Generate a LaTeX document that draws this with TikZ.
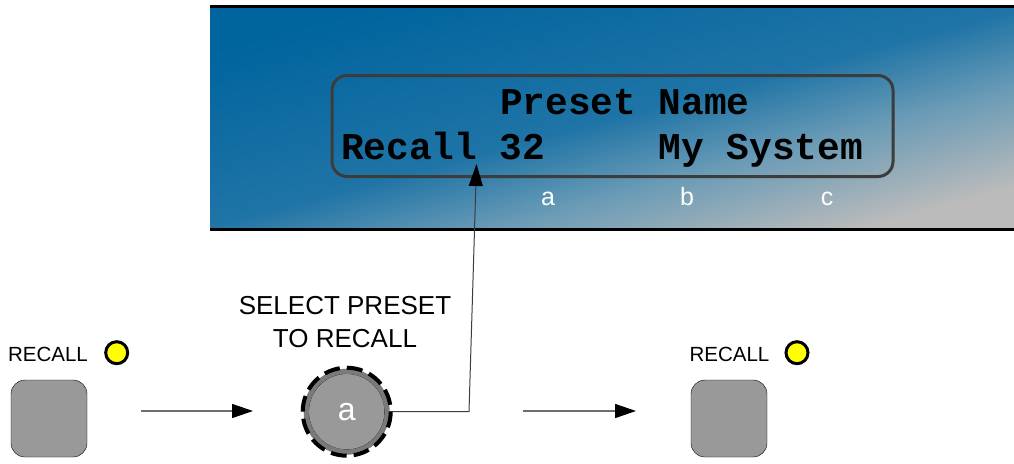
\documentclass[tikz,border=0pt]{standalone}
\usepackage{fontspec}
\setmainfont{Liberation Sans}
\newfontfamily\lcdfont{Liberation Mono}
\usetikzlibrary{arrows.meta}

\definecolor{paneldark}{HTML}{00649E}
\definecolor{panelblue}{HTML}{1F74A6}
\definecolor{panelmid}{HTML}{6A9BB6}
\definecolor{panelgray}{HTML}{BBBBBB}
\definecolor{lcdedge}{HTML}{3C3C3C}
\definecolor{btngray}{HTML}{999999}
\definecolor{ringgray}{HTML}{7A7A7A}
\definecolor{flowgray}{HTML}{6E6E6E}
\definecolor{ledyellow}{HTML}{FFFF00}

\pgfdeclarehorizontalshading{panelshade}{100bp}{color(0bp)=(paneldark); color(25bp)=(paneldark);
  color(50bp)=(panelblue); color(61bp)=(panelmid); color(75bp)=(panelgray); color(100bp)=(panelgray)}

\begin{document}
\begin{tikzpicture}[x=1pt, y=-1pt,
    button/.style={draw=black, fill=btngray, rounded corners=14pt,
        minimum width=76pt, minimum height=77pt, inner sep=0pt},
    led/.style={circle, draw=black, line width=3pt, fill=ledyellow,
        minimum size=22pt, inner sep=0pt},
    caption/.style={font=\fontsize{20.5}{24}\selectfont, inner sep=0pt},
    lcdtext/.style={font=\lcdfont\bfseries\fontsize{37.8}{40}\selectfont,
        anchor=base west, inner sep=0pt},
    field/.style={text=white, font=\fontsize{25}{28}\selectfont,
        anchor=base, inner sep=0pt},
    flow/.style={draw=flowgray, line width=1.5pt,
        -{Triangle[length=21pt, width=14pt, color=black]}}]
    \useasboundingbox (0,0) rectangle (1014,463);

    % Display panel
    \shade[shading=panelshade, shading angle=-75] (210,8) rectangle (1014,228);
    \draw[line width=3pt] (210,6.5) -- (1014,6.5);
    \draw[line width=3pt] (210,229.5) -- (1014,229.5);

    % LCD window
    \node[draw=lcdedge, line width=3pt, rounded corners=15pt,
        minimum width=561pt, minimum height=101pt] (lcd) at (612.5,126) {};
    \node[lcdtext] (title) at (499.8,114.5) {Preset Name};
    \node[lcdtext] (recall) at (341,159) {Recall 32};
    \node[lcdtext] (name) at (658.5,159) {My System};

    % Field labels
    \node[field] (fa) at (548,205) {a};
    \node[field] (fb) at (687,205) {b};
    \node[field] (fc) at (827,205) {c};

    % Recall buttons
    \node[button] (lbtn) at (49,418.5) {};
    \node[caption] (lcap) at (48,354) {RECALL};
    \node[led] (lled) at (116.7,352.7) {};

    \node[button] (rbtn) at (729,418.5) {};
    \node[caption] (rcap) at (729.5,354) {RECALL};
    \node[led] (rled) at (797,352.7) {};

    % Select knob
    \node[circle, draw=black, fill=btngray, minimum size=76pt, inner sep=0pt,
        text=white, font=\fontsize{32}{36}\selectfont] (knob) at (346.7,411.7) {a};
    \node[font=\fontsize{26}{33}\selectfont, align=center, anchor=north, inner sep=0pt]
        (select) at (345,296.5) {SELECT PRESET\\TO RECALL};

    \coordinate (bend) at (469,411.7);
    \coordinate (pick) at (476.5,164);
    \draw[lcdedge, line width=1pt, -{Triangle[length=22pt, width=14pt, color=black]}]
        (knob.east) -- (bend) -- (pick);

    \draw[ringgray, line width=5pt] (knob.center) circle [radius=40.5];
    \draw[line width=4pt, dash pattern=on 16pt off 7.04pt] (knob.center) circle [radius=44];

    % Flow arrows
    \coordinate (f1s) at (141,411);
    \coordinate (f1e) at (253,411);
    \coordinate (f2s) at (522.7,411);
    \coordinate (f2e) at (636,411);
    \draw[flow] (f1s) -- (f1e);
    \draw[flow] (f2s) -- (f2e);

\end{tikzpicture}
\end{document}
